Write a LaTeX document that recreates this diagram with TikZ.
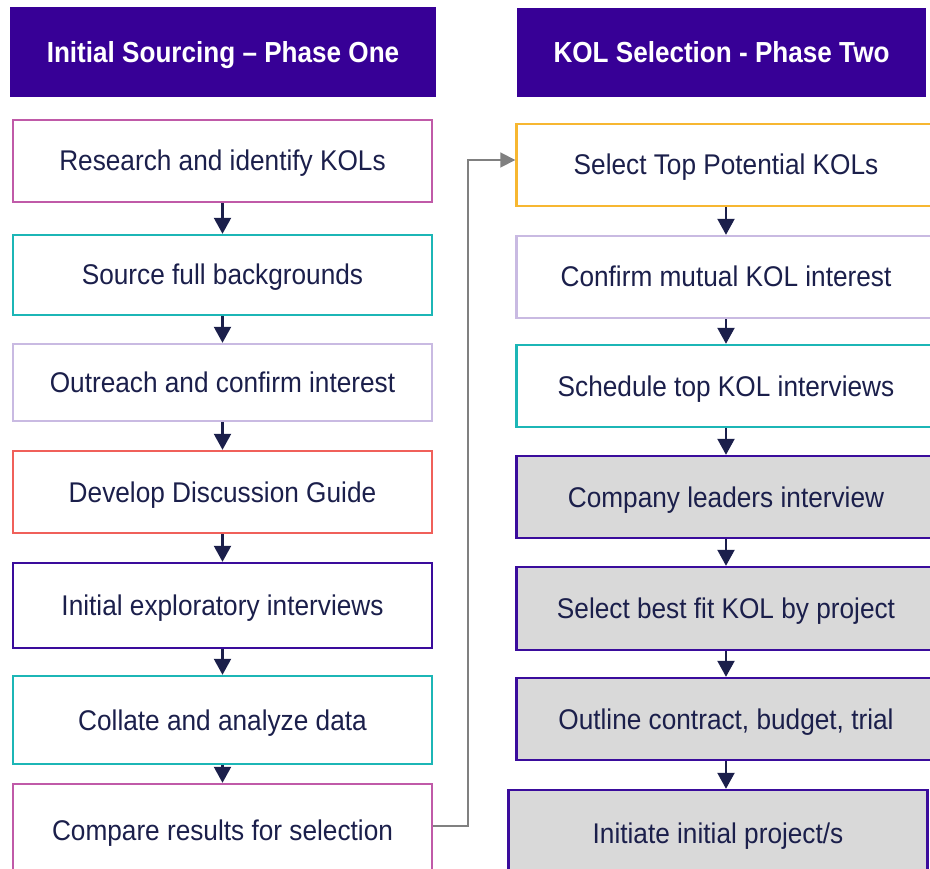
\documentclass[tikz,border=0pt]{standalone}
\usepackage{fontspec}
\setmainfont{Liberation Sans}
\usetikzlibrary{arrows.meta}

\definecolor{headc}{HTML}{370096}
\definecolor{pinkc}{HTML}{C05AA8}
\definecolor{tealc}{HTML}{1CB6B6}
\definecolor{lavc}{HTML}{C9BAE2}
\definecolor{redc}{HTML}{F0605A}
\definecolor{indc}{HTML}{3A0C9C}
\definecolor{yelc}{HTML}{F7B731}
\definecolor{grayf}{HTML}{D9D9D9}
\definecolor{txtc}{HTML}{1B1F4B}
\definecolor{linkc}{HTML}{808080}

% slightly condensed lettering
\newcommand{\narrow}[1]{\scalebox{0.92}[1]{#1}}
\newcommand{\narrowhead}[1]{\scalebox{0.9}[1]{#1}}

\tikzset{
  head/.style={fill=headc, text=white, inner sep=0pt,
    text height=21pt, text depth=0pt,
    font=\fontsize{29}{33}\selectfont\bfseries},
  stepbox/.style={draw, line width=2.4pt, fill=white, text=txtc, inner sep=0pt,
    text height=20pt, text depth=0pt,
    minimum width=419pt, font=\fontsize{28.5}{32}\selectfont},
  greybox/.style={stepbox, draw=indc, fill=grayf},
  flow/.style={draw=txtc, line width=2.2pt,
    -{Triangle[width=17pt,length=16pt]}},
  link/.style={draw=linkc, line width=1.8pt,
    -{Triangle[width=15pt,length=15pt]}}
}

\begin{document}
\begin{tikzpicture}[x=1pt,y=-1pt]
\useasboundingbox (0,0) rectangle (930,869);
\clip (0,0) rectangle (930,869);

% column headers
\node[head, minimum width=426pt, minimum height=90pt] (h1) at (223,52) {\narrowhead{Initial Sourcing – Phase One}};
\node[head, minimum width=409pt, minimum height=89pt] (h2) at (721.5,52.5) {\narrowhead{KOL Selection - Phase Two}};

% phase one steps
\node[stepbox, draw=pinkc, minimum height=82pt] (l1) at (222.5,161) {\narrow{Research and identify KOLs}};
\node[stepbox, draw=tealc, minimum height=80pt] (l2) at (222.5,275) {\narrow{Source full backgrounds}};
\node[stepbox, draw=lavc,  minimum height=77pt] (l3) at (222.5,382.5) {\narrow{Outreach and confirm interest}};
\node[stepbox, draw=redc,  minimum height=82pt] (l4) at (222.5,492) {\narrow{Develop Discussion Guide}};
\node[stepbox, draw=indc,  minimum height=85pt] (l5) at (222.5,605.5) {\narrow{Initial exploratory interviews}};
\node[stepbox, draw=tealc, minimum height=88pt] (l6) at (222.5,720) {\narrow{Collate and analyze data}};
\node[stepbox, draw=pinkc, minimum height=92pt] (l7) at (222.5,830) {\narrow{Compare results for selection}};

% phase two steps
\node[stepbox, draw=yelc,  minimum height=82pt] (r1) at (726,165) {\narrow{Select Top Potential KOLs}};
\node[stepbox, draw=lavc,  minimum height=82pt] (r2) at (726,277) {\narrow{Confirm mutual KOL interest}};
\node[stepbox, draw=tealc, minimum height=82pt] (r3) at (726,386) {\narrow{Schedule top KOL interviews}};
\node[greybox, minimum height=82pt] (r4) at (726,497) {\narrow{Company leaders interview}};
\node[greybox, minimum height=83pt] (r5) at (726,608.5) {\narrow{Select best fit KOL by project}};
\node[greybox, minimum height=82pt] (r6) at (726,719) {\narrow{Outline contract, budget, trial}};
\node[greybox, minimum height=86pt] (r7) at (718,833) {\narrow{Initiate initial project/s}};

% arrows down each column
\foreach \a/\b in {l1/l2,l2/l3,l3/l4,l4/l5,l5/l6,l6/l7,r1/r2,r2/r3,r3/r4,r4/r5,r5/r6}
  \draw[flow] (\a.south) -- (\b.north);
\draw[flow] (r6.south) -- (r6.south |- r7.north);

% hand-over from phase one to phase two
\coordinate (exit) at ([yshift=4pt]l7.east);
\coordinate (entry) at ([yshift=5pt]r1.west);
\coordinate (bend) at (468,0);
\draw[link] (exit) -- (bend |- exit) -- (bend |- entry) -- (entry);
\end{tikzpicture}
\end{document}
